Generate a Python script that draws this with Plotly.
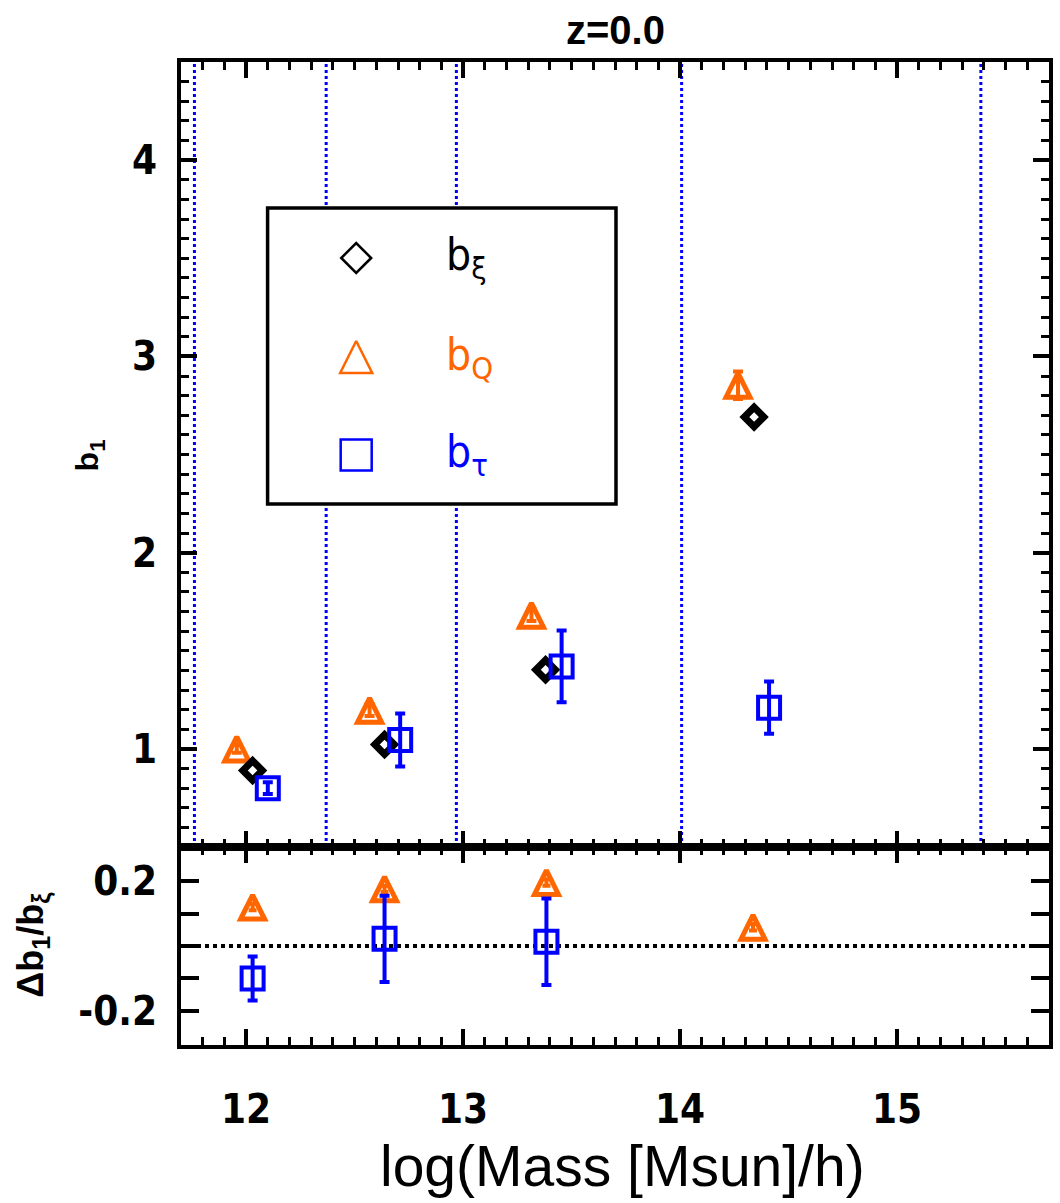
import plotly.graph_objects as go

# ---------------- data ----------------
# top panel: bias b1 vs log halo mass
mass_xi = [12.03, 12.638, 13.38, 14.341]
b_xi = [0.89, 1.022, 1.403, 2.691]

mass_Q = [11.957, 12.569, 13.315, 14.267]
b_Q = [1.0, 1.197, 1.681, 2.853]
b_Q_err = [0.02, 0.03, 0.03, 0.07]

mass_T = [12.10, 12.71, 13.454, 14.41]
b_T = [0.80, 1.045, 1.42, 1.21]
b_T_err = [0.03, 0.135, 0.183, 0.133]

# bottom panel: relative difference  Δb1 / b_xi
mass_rel_Q = [12.03, 12.638, 13.384, 14.336]
db_Q = [0.12, 0.176, 0.196, 0.058]
db_Q_err = [0.01, 0.01, 0.01, 0.01]

mass_rel_T = [12.03, 12.638, 13.384]
db_T = [-0.10, 0.022, 0.013]
db_T_err = [0.068, 0.133, 0.133]

# mass-bin edges (blue dotted lines)
bin_edges = [11.762, 12.369, 12.969, 14.007, 15.386]

x_ticks = [12, 13, 14, 15]
top_y_ticks = [1, 2, 3, 4]
bot_y_ticks = [-0.2, -0.1, 0.0, 0.1, 0.2]
bot_y_text = ["-0.2", "", "", "", "0.2"]

legend_names = ["b<sub>ξ</sub>", "b<sub>Q</sub>", "b<sub>τ</sub>"]

# ---------------- styling ----------------
ORANGE = "#FF6600"
BLUE = "#0000FF"
BLACK = "#000000"
NARROW = "Liberation Sans Narrow, DejaVu Sans Condensed, Liberation Sans, Arial"
SANS = "Liberation Sans, Arial"

W, H = 1060, 1203
ML, MR, MT, MB = 181, 7, 62, 158
plot_h = H - MT - MB
split = 198 / plot_h

fig = go.Figure()

tri = dict(symbol="arrow-down-open", angle=180, standoff=12, size=24,
           color=ORANGE, line=dict(width=5, color=ORANGE))
dia = dict(symbol="diamond-open", size=15, color=BLACK, line=dict(width=7, color=BLACK))
sqr = dict(symbol="square-open", size=22, color=BLUE, line=dict(width=4, color=BLUE))

# top panel
fig.add_trace(go.Scatter(x=mass_Q, y=b_Q, mode="markers", xaxis="x2", yaxis="y2",
                         marker=tri,
                         error_y=dict(type="data", array=b_Q_err, color=ORANGE, thickness=4, width=5)))
fig.add_trace(go.Scatter(x=mass_xi, y=b_xi, mode="markers", xaxis="x2", yaxis="y2",
                         marker=dia))
fig.add_trace(go.Scatter(x=mass_T, y=b_T, mode="markers", xaxis="x2", yaxis="y2",
                         marker=sqr,
                         error_y=dict(type="data", array=b_T_err, color=BLUE, thickness=4, width=5)))

# bottom panel
fig.add_trace(go.Scatter(x=mass_rel_Q, y=db_Q, mode="markers", xaxis="x", yaxis="y",
                         marker=tri,
                         error_y=dict(type="data", array=db_Q_err, color=ORANGE, thickness=4, width=4)))
fig.add_trace(go.Scatter(x=mass_rel_T, y=db_T, mode="markers", xaxis="x", yaxis="y",
                         marker=sqr,
                         error_y=dict(type="data", array=db_T_err, color=BLUE, thickness=4, width=5)))

# legend symbols (on an invisible 0..1 overlay axis)
leg_x = (357 - ML) / (W - ML - MR)
leg_ys = [(H - MB - py) / plot_h for py in (258, 357, 455)]
leg_syms = [
    dict(symbol="diamond-open", size=23, color=BLACK, line=dict(width=2.5, color=BLACK)),
    dict(symbol="arrow-down-open", angle=180, standoff=16, size=32, color=ORANGE, line=dict(width=2.5, color=ORANGE)),
    dict(symbol="square-open", size=31, color=BLUE, line=dict(width=2.5, color=BLUE)),
]
for yy, m in zip(leg_ys, leg_syms):
    fig.add_trace(go.Scatter(x=[leg_x], y=[yy], mode="markers", xaxis="x3", yaxis="y3",
                             marker=m, hoverinfo="skip"))

# shapes: bin edges then legend box (same subplot layer, box on top of lines)
shapes = []
for e in bin_edges:
    shapes.append(dict(type="line", xref="x2", yref="y2 domain", x0=e, x1=e, y0=0, y1=1,
                       line=dict(color=BLUE, width=3, dash="dot"), layer="below"))
box_x0 = (268 - ML) / (W - ML - MR)
box_x1 = (618 - ML) / (W - ML - MR)
top_h = plot_h - 198
box_y0 = (847 - 504) / top_h
box_y1 = (847 - 208) / top_h
shapes.append(dict(type="rect", xref="x2 domain", yref="y2 domain", x0=box_x0, x1=box_x1,
                   y0=box_y0, y1=box_y1, line=dict(color=BLACK, width=3.5),
                   fillcolor="white", layer="below"))
# zero line in bottom panel
shapes.append(dict(type="line", xref="x domain", yref="y", x0=0, x1=1, y0=0, y1=0,
                   line=dict(color=BLACK, width=4, dash="dot"), layer="below"))

leg_colors = [BLACK, ORANGE, BLUE]
text_x = (445 - ML) / (W - ML - MR)
annotations = []
for name, yy, c in zip(legend_names, leg_ys, leg_colors):
    annotations.append(dict(text=name, x=text_x, y=yy, xref="paper", yref="paper",
                            xanchor="left", yanchor="middle", showarrow=False,
                            font=dict(family=NARROW, size=44, color=c)))
annotations += [
    dict(text="z=0.0", x=(617 - ML) / (W - ML - MR), y=(H - MB - 30) / plot_h,
         xref="paper", yref="paper", showarrow=False, xanchor="center", yanchor="middle",
         font=dict(family=SANS, size=40, color=BLACK, weight="bold")),
    dict(text="b<sub>1</sub>", x=(90 - ML) / (W - ML - MR), y=(H - MB - 455) / plot_h,
         xref="paper", yref="paper", showarrow=False, textangle=-90,
         xanchor="center", yanchor="middle",
         font=dict(family=SANS, size=32, color=BLACK, weight="bold")),
    dict(text="Δb<sub>1</sub>/b<sub>ξ</sub>", x=(32 - ML) / (W - ML - MR),
         y=(H - MB - 945) / plot_h, xref="paper", yref="paper", showarrow=False,
         textangle=-90, xanchor="center", yanchor="middle",
         font=dict(family=SANS, size=36, color=BLACK, weight="bold")),
    dict(text="log(Mass [Msun]/h)", x=(625 - ML) / (W - ML - MR),
         y=(H - MB - 1166) / plot_h, xref="paper", yref="paper", showarrow=False,
         xanchor="center", yanchor="middle",
         font=dict(family=SANS, size=57, color=BLACK)),
]

tickfont_x = dict(family=NARROW, size=40, color=BLACK, weight="bold")
tickfont_y = dict(family=NARROW, size=40, color=BLACK, weight="bold")

common_x = dict(range=[11.7, 15.7], tickvals=x_ticks, ticks="inside", ticklen=16,
                tickwidth=4, tickcolor=BLACK, showline=True, linewidth=4, linecolor=BLACK,
                mirror="allticks", showgrid=False, zeroline=False,
                minor=dict(dtick=0.1, tick0=12, ticks="inside", ticklen=8, tickwidth=3,
                           tickcolor=BLACK, showgrid=False))

fig.update_layout(
    width=W, height=H,
    margin=dict(l=ML, r=MR, t=MT, b=MB, pad=0),
    paper_bgcolor="white", plot_bgcolor="rgba(0,0,0,0)",
    showlegend=False,
    xaxis=dict(domain=[0, 1], anchor="y", tickfont=tickfont_x, ticklabelstandoff=26,
               **common_x),
    xaxis2=dict(domain=[0, 1], anchor="y2", matches="x", showticklabels=False, **common_x),
    yaxis=dict(domain=[0, split], anchor="x", range=[-0.305, 0.305], tickvals=bot_y_ticks,
               ticktext=bot_y_text, ticks="inside", ticklen=18, tickwidth=4, tickcolor=BLACK,
               showline=True, linewidth=4, linecolor=BLACK, mirror="allticks",
               showgrid=False, zeroline=False, tickfont=tickfont_y, ticklabelstandoff=12),
    yaxis2=dict(domain=[split, 1], anchor="x2", range=[0.5, 4.5], tickvals=top_y_ticks,
                ticks="inside", ticklen=16, tickwidth=4, tickcolor=BLACK,
                showline=True, linewidth=4, linecolor=BLACK, mirror="allticks",
                showgrid=False, zeroline=False, tickfont=tickfont_y, ticklabelstandoff=12,
                minor=dict(dtick=0.1, tick0=0.5, ticks="inside", ticklen=8, tickwidth=3,
                           tickcolor=BLACK, showgrid=False)),
    xaxis3=dict(domain=[0, 1], anchor="y3", range=[0, 1], visible=False, fixedrange=True),
    yaxis3=dict(domain=[0, 1], anchor="x3", range=[0, 1], visible=False, fixedrange=True),
    shapes=shapes,
    annotations=annotations,
)

fig.write_html("out.html")
